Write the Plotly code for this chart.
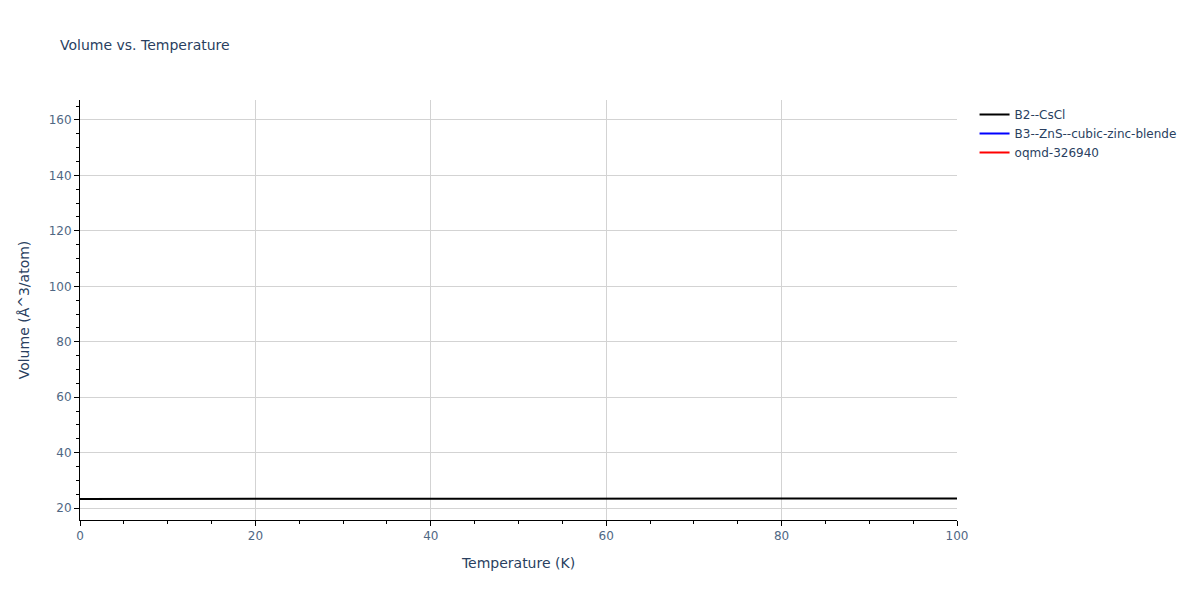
import plotly.graph_objects as go

# temperatures (K) and volumes (Å^3/atom)
temperature = [0, 10, 20, 30, 40, 50, 60, 70, 80, 90, 100]
vol_b2_cscl = [23.30, 23.30, 23.31, 23.32, 23.34, 23.36, 23.38, 23.41, 23.44, 23.47, 23.50]

# the other two structures have no visible points inside the shown window
temp_b3_zns = [0]
vol_b3_zns = [None]
temp_oqmd = [0]
vol_oqmd = [None]

fig = go.Figure()
fig.add_trace(go.Scatter(x=temperature, y=vol_b2_cscl, mode='lines',
                         name='B2--CsCl', line=dict(color='black', width=2)))
fig.add_trace(go.Scatter(x=temp_b3_zns, y=vol_b3_zns, mode='lines',
                         name='B3--ZnS--cubic-zinc-blende', line=dict(color='blue', width=2)))
fig.add_trace(go.Scatter(x=temp_oqmd, y=vol_oqmd, mode='lines',
                         name='oqmd-326940', line=dict(color='red', width=2)))

axis_style = dict(
    showline=True, linecolor='black', linewidth=1,
    ticks='outside', tickcolor='black',
    showgrid=True, gridcolor='lightgrey',
    zeroline=False,
    tickfont=dict(size=12, color='#506784'),
    title_font=dict(size=14),
)

# page has an 8px body margin, so margins are trimmed to land the plot where the reference has it
fig.update_layout(
    width=1200, height=600,
    margin=dict(l=72, r=251, t=92, b=88),
    title=dict(text="Volume vs. Temperature", font=dict(size=14), x=0.0433, y=0.947),
    xaxis_title="Temperature (K)",
    yaxis_title="Volume (Å^3/atom)",
    font=dict(family="DejaVu Sans", color='#2a3f5f'),
    legend=dict(font=dict(size=12)),
    plot_bgcolor='white',
    paper_bgcolor='white',
    showlegend=True,
)
fig.update_xaxes(range=[0, 100], dtick=20,
                 minor=dict(ticks='outside', dtick=5, tickcolor='black', showgrid=False),
                 **axis_style)
fig.update_yaxes(range=[15.7, 167.2], dtick=20,
                 minor=dict(ticks='outside', dtick=5, tickcolor='black', showgrid=False),
                 **axis_style)

fig.write_html("out.html")
